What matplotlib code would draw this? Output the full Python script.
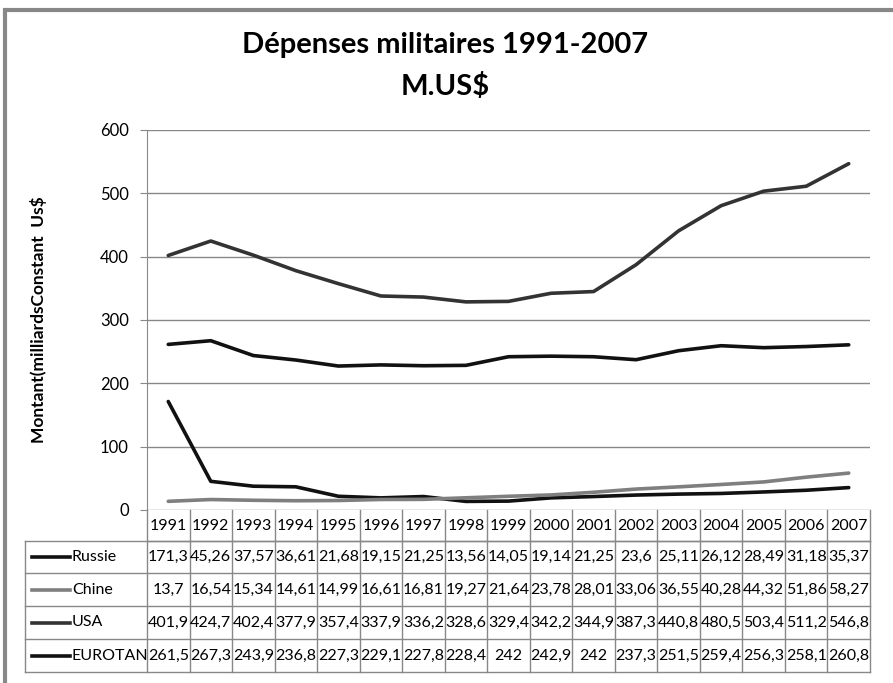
import numpy as np
import matplotlib.pyplot as plt
import matplotlib.transforms as mtransforms
from matplotlib.patches import Rectangle

plt.rcParams['font.family'] = ['Lato', 'DejaVu Sans']

years = [str(y) for y in range(1991, 2008)]
series_names = ["Russie", "Chine", "USA", "EUROTAN"]
russie = [171.3, 45.26, 37.57, 36.61, 21.68, 19.15, 21.25, 13.56, 14.05, 19.14,
          21.25, 23.6, 25.11, 26.12, 28.49, 31.18, 35.37]
chine = [13.7, 16.54, 15.34, 14.61, 14.99, 16.61, 16.81, 19.27, 21.64, 23.78,
         28.01, 33.06, 36.55, 40.28, 44.32, 51.86, 58.27]
usa = [401.9, 424.7, 402.4, 377.9, 357.4, 337.9, 336.2, 328.6, 329.4, 342.2,
       344.9, 387.3, 440.8, 480.5, 503.4, 511.2, 546.8]
eurotan = [261.5, 267.3, 243.9, 236.8, 227.3, 229.1, 227.8, 228.4, 242, 242.9,
           242, 237.3, 251.5, 259.4, 256.3, 258.1, 260.8]
colors = ["#111111", "#7f7f7f", "#333333", "#111111"]
data = [russie, chine, usa, eurotan]


def fmt(v):
    s = f"{v:.2f}".rstrip("0").rstrip(".")
    return s.replace(".", ",")


W, H = 893, 683
fig = plt.figure(figsize=(W / 100, H / 100), dpi=100)
ax = fig.add_axes([147 / W, 1 - 510 / H, 723 / W, 380 / H])

x = np.arange(len(years))
for vals, c in zip(data, colors):
    ax.plot(x, vals, color=c, lw=2.6, solid_capstyle="round")

ax.set_xlim(-0.5, len(years) - 0.5)
ax.set_ylim(0, 600)
ax.set_yticks(range(0, 601, 100))
ax.yaxis.grid(True, color="#888888", lw=1)
ax.set_axisbelow(True)
ax.set_xticks([])
for s in ["top", "right", "bottom"]:
    ax.spines[s].set_visible(False)
ax.spines["left"].set_color("#888888")
ax.tick_params(axis="y", length=5, color="#888888", labelsize=12, pad=8)
ax.set_ylabel("Montant(milliardsConstant  Us$", fontsize=12.5, fontweight="bold",
              labelpad=38)

fig.text(445 / W, 1 - 45 / H, "Dépenses militaires 1991-2007", ha="center",
         va="center", fontsize=21, fontweight="bold")
fig.text(445 / W, 1 - 87 / H, "M.US$", ha="center", va="center",
         fontsize=21, fontweight="bold")

# data table below the plot (x in data units, y in axes units)
tr = mtransforms.blended_transform_factory(ax.transData, ax.transAxes)
row_px = [510, 541, 573, 606, 639, 672]
row_y = [-(p - 510) / 380 for p in row_px]
n = len(years)
x_left = -0.5 - 122 / 42.5
grid_kw = dict(color="#888888", lw=1, transform=tr, clip_on=False)
fs = 11.5

# header row: only over the data columns
ax.plot([-0.5, n - 0.5], [row_y[1], row_y[1]], **grid_kw)
for i in range(n + 1):
    ax.plot([i - 0.5, i - 0.5], [row_y[0], row_y[-1]], **grid_kw)
for i, yr in enumerate(years):
    ax.text(i, (row_y[0] + row_y[1]) / 2, yr, ha="center", va="center",
            fontsize=fs, transform=tr)

# body rows
for k in range(1, len(row_y)):
    ax.plot([x_left, n - 0.5], [row_y[k], row_y[k]], **grid_kw)
ax.plot([x_left, x_left], [row_y[1], row_y[-1]], **grid_kw)
for r, (name, vals, c) in enumerate(zip(series_names, data, colors)):
    ym = (row_y[r + 1] + row_y[r + 2]) / 2
    ax.plot([x_left + 7 / 42.5, x_left + 45 / 42.5], [ym, ym], color=c, lw=2.6,
            transform=tr, clip_on=False)
    ax.text(x_left + 47 / 42.5, ym, name, ha="left", va="center",
            fontsize=fs, transform=tr)
    for i, v in enumerate(vals):
        ax.text(i, ym, fmt(v), ha="center", va="center", fontsize=fs,
                transform=tr)

fig.add_artist(Rectangle((5 / W, -0.1), 1.1, 1 - 10 / H + 0.1, fill=False,
                         edgecolor="#888888", lw=3, transform=fig.transFigure))

fig.savefig("out.png", dpi=100)
